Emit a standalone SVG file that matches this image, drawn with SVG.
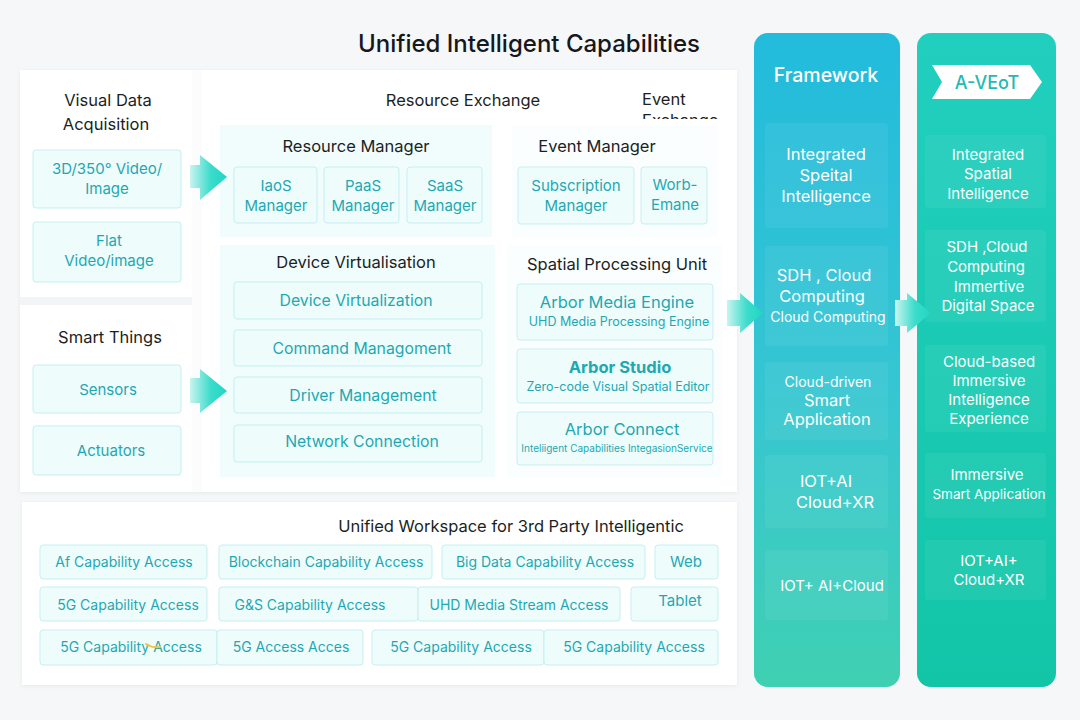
<svg xmlns="http://www.w3.org/2000/svg" width="1080" height="720" viewBox="0 0 1080 720">
<defs>
<linearGradient id="gFw" x1="0" y1="0" x2="0" y2="1"><stop offset="0" stop-color="#22bbdc"/><stop offset="0.55" stop-color="#36c6d2"/><stop offset="1" stop-color="#3fd0b2"/></linearGradient>
<linearGradient id="gAv" x1="0" y1="0" x2="0" y2="1"><stop offset="0" stop-color="#22cfbf"/><stop offset="1" stop-color="#12c5a7"/></linearGradient>
<linearGradient id="gArr" x1="0" y1="0" x2="1" y2="0"><stop offset="0" stop-color="#c9f4ef"/><stop offset="0.55" stop-color="#3ddccb"/><stop offset="1" stop-color="#1fd6c4"/></linearGradient>
<clipPath id="clipEv"><rect x="630" y="80" width="100" height="39"/></clipPath>
<filter id="sh" x="-5%" y="-5%" width="110%" height="110%"><feDropShadow dx="0" dy="1" stdDeviation="2" flood-color="#9aa8b0" flood-opacity="0.18"/></filter>
</defs>
<style>
text{font-family:"Inter","Liberation Sans",sans-serif;}
.title{font-size:24px;fill:#15181c;font-weight:500;text-anchor:middle;}
.h{font-size:16.5px;fill:#1c1f23;text-anchor:middle;}
.t{font-size:15px;fill:#1ea8b1;text-anchor:middle;}
.tw{font-size:14px;fill:#1ea8b1;text-anchor:middle;}
.ts{font-size:12.5px;fill:#1ea8b1;text-anchor:middle;}
.tb{font-size:16.5px;fill:#1ea8b1;text-anchor:middle;}
.box{fill:#effcfc;stroke:#c5eff0;stroke-width:1;}
.panelT{fill:#f1fcfc;}
.panelW{fill:#fbfefe;}
.w{font-size:16.5px;fill:#ffffff;text-anchor:middle;}
.ws{font-size:14px;fill:#ffffff;text-anchor:middle;}
.ib{fill:#ffffff;fill-opacity:0.06;}
.arr{fill:url(#gArr);}
</style>
<rect x="0" y="0" width="1080" height="720" fill="#f6f7f8"/>
<g id="main-panel">
<rect x="20" y="70" width="717" height="422" fill="#ffffff" filter="url(#sh)"/>
<rect x="20" y="297" width="172" height="8" fill="#f3f4f5"/>
<rect x="192" y="70" width="10" height="422" fill="#fcfcfc"/>
</g>
<text class="title" x="529" y="52">Unified Intelligent Capabilities</text>

<g id="visual-data">
<text class="h" x="108" y="106">Visual Data</text>
<text class="h" x="106" y="130">Acquisition</text>
<rect class="box" x="33" y="150" width="148" height="58" rx="3"/>
<text class="t" x="107" y="174">3D/350° Video/</text>
<text class="t" x="107" y="194">Image</text>
<rect class="box" x="33" y="222" width="148" height="60" rx="3"/>
<text class="t" x="109" y="246">Flat</text>
<text class="t" x="109" y="266">Video/image</text>
</g>

<g id="smart-things">
<text class="h" x="110" y="343">Smart Things</text>
<rect class="box" x="33" y="365" width="148" height="48" rx="3"/>
<text class="t" x="108" y="395">Sensors</text>
<rect class="box" x="33" y="426" width="148" height="49" rx="3"/>
<text class="t" x="111" y="456">Actuators</text>
</g>

<g id="resource-exchange">
<text class="h" x="463" y="106">Resource Exchange</text>
<rect class="panelT" x="220" y="125" width="272" height="112"/>
<text class="h" x="356" y="152">Resource Manager</text>
<rect class="box" x="234" y="167" width="83" height="56" rx="3"/>
<text class="t" x="276" y="191">IaoS</text>
<text class="t" x="276" y="211">Manager</text>
<rect class="box" x="324" y="167" width="75" height="56" rx="3"/>
<text class="t" x="363" y="191">PaaS</text>
<text class="t" x="363" y="211">Manager</text>
<rect class="box" x="407" y="167" width="75" height="56" rx="3"/>
<text class="t" x="445" y="191">SaaS</text>
<text class="t" x="445" y="211">Manager</text>
</g>

<g id="event-exchange">
<text class="h" x="642" y="105" style="text-anchor:start">Event</text>
<text class="h" x="642" y="126" style="text-anchor:start" clip-path="url(#clipEv)">Exchange</text>
<rect class="panelW" x="512" y="125" width="206" height="112"/>
<text class="h" x="597" y="152">Event Manager</text>
<rect class="box" x="518" y="167" width="116" height="57" rx="3"/>
<text class="t" x="576" y="191">Subscription</text>
<text class="t" x="576" y="211">Manager</text>
<rect class="box" x="641" y="167" width="66" height="57" rx="3"/>
<text class="t" x="675" y="190">Worb-</text>
<text class="t" x="675" y="210">Emane</text>
</g>

<g id="device-virtualisation">
<rect class="panelT" x="220" y="245" width="275" height="232"/>
<text class="h" x="356" y="268">Device Virtualisation</text>
<rect class="box" x="234" y="282" width="248" height="37" rx="3"/>
<text class="t" x="356" y="306" style="font-size:15.8px">Device Virtualization</text>
<rect class="box" x="234" y="330" width="248" height="36" rx="3"/>
<text class="t" x="362" y="354" style="font-size:15.8px">Command Managoment</text>
<rect class="box" x="234" y="377" width="248" height="36" rx="3"/>
<text class="t" x="363" y="401" style="font-size:15.8px">Driver Management</text>
<rect class="box" x="234" y="425" width="248" height="37" rx="3"/>
<text class="t" x="362" y="447" style="font-size:15.8px">Network Connection</text>
</g>

<g id="spatial-processing">
<rect class="panelW" x="507" y="245" width="215" height="232"/>
<text class="h" x="617" y="270">Spatial Processing Unit</text>
<rect class="box" x="517" y="284" width="196" height="56" rx="3"/>
<text class="tb" x="617" y="308">Arbor Media Engine</text>
<text class="ts" x="619" y="326">UHD Media Processing Engine</text>
<rect class="box" x="517" y="349" width="196" height="54" rx="3"/>
<text class="tb" x="620" y="373" style="font-weight:700">Arbor Studio</text>
<text class="ts" x="618" y="391">Zero-code Visual Spatial Editor</text>
<rect class="box" x="517" y="412" width="196" height="53" rx="3"/>
<text class="tb" x="622" y="435">Arbor Connect</text>
<text class="ts" x="617" y="452" style="font-size:10px">Inteliigent Capabilities IntegasionService</text>
</g>

<g id="workspace">
<rect x="22" y="502" width="715" height="183" fill="#ffffff" filter="url(#sh)"/>
<text class="h" x="511" y="532">Unified Workspace for 3rd Party Intelligentic</text>
<rect class="box" x="40" y="545" width="167" height="34" rx="3"/>
<text class="tw" x="124" y="567">Af Capability Access</text>
<rect class="box" x="219" y="545" width="213" height="34" rx="3"/>
<text class="tw" x="326" y="567">Blockchain Capability Access</text>
<rect class="box" x="442" y="545" width="203" height="34" rx="3"/>
<text class="tw" x="545" y="567">Big Data Capability Access</text>
<rect class="box" x="655" y="545" width="63" height="34" rx="3"/>
<text class="tw" x="686" y="567" style="font-size:15px">Web</text>
<rect class="box" x="40" y="587" width="167" height="34" rx="3"/>
<text class="tw" x="128" y="610">5G Capability Access</text>
<rect class="box" x="219" y="587" width="199" height="34" rx="3"/>
<text class="tw" x="310" y="610">G&amp;S Capability Access</text>
<rect class="box" x="418" y="587" width="202" height="34" rx="3"/>
<text class="tw" x="519" y="610">UHD Media Stream Access</text>
<rect class="box" x="631" y="587" width="87" height="34" rx="3"/>
<text class="tw" x="680" y="606" style="font-size:15px">Tablet</text>
<rect class="box" x="40" y="630" width="177" height="35" rx="3"/>
<text class="tw" x="131" y="652">5G Capability Access</text>
<path d="M146 644 Q152 648 160 647" fill="none" stroke="#f2c53a" stroke-width="2" stroke-linecap="round"/>
<rect class="box" x="217" y="630" width="146" height="35" rx="3"/>
<text class="tw" x="291" y="652">5G Access Acces</text>
<rect class="box" x="372" y="630" width="172" height="35" rx="3"/>
<text class="tw" x="461" y="652">5G Capability Access</text>
<rect class="box" x="544" y="630" width="174" height="35" rx="3"/>
<text class="tw" x="634" y="652">5G Capability Access</text>
</g>

<g id="framework">
<rect x="754" y="33" width="146" height="654" rx="14" fill="url(#gFw)"/>
<text class="w" x="826" y="82" style="font-size:19.5px;font-weight:500">Framework</text>
<rect class="ib" x="765" y="123" width="123" height="105" rx="3"/>
<text class="w" x="826" y="160">Integrated</text>
<text class="w" x="826" y="181">Speital</text>
<text class="w" x="826" y="202">Intelligence</text>
<rect class="ib" x="765" y="246" width="123" height="100" rx="3"/>
<text class="w" x="824" y="281">SDH , Cloud</text>
<text class="w" x="822" y="302">Computing</text>
<text class="ws" x="828" y="322">Cloud Computing</text>
<rect class="ib" x="765" y="362" width="123" height="78" rx="3"/>
<text class="ws" x="828" y="387">Cloud-driven</text>
<text class="w" x="827" y="406">Smart</text>
<text class="w" x="827" y="425">Application</text>
<rect class="ib" x="765" y="455" width="123" height="73" rx="3"/>
<text class="w" x="826" y="487">IOT+AI</text>
<text class="w" x="835" y="508">Cloud+XR</text>
<rect class="ib" x="765" y="550" width="123" height="70" rx="3"/>
<text class="w" x="832" y="591" style="font-size:15px">IOT+ AI+Cloud</text>
</g>

<g id="a-veot">
<rect x="917" y="33" width="139" height="654" rx="14" fill="url(#gAv)"/>
<polygon points="932,65 1030,65 1042,82 1030,99 932,99 942,82" fill="#ffffff"/>
<text x="987" y="89" style="font-size:18px;fill:#1fbab5;text-anchor:middle;font-weight:500">A-VEoT</text>
<rect class="ib" x="925" y="135" width="121" height="73" rx="3"/>
<text class="w" x="988" y="160" style="font-size:15px">Integrated</text>
<text class="w" x="988" y="179" style="font-size:15px">Spatial</text>
<text class="w" x="988" y="199" style="font-size:15px">Intelligence</text>
<rect class="ib" x="925" y="230" width="121" height="92" rx="3"/>
<text class="w" x="987" y="252" style="font-size:15px">SDH ,Cloud</text>
<text class="w" x="986" y="272" style="font-size:15px">Computing</text>
<text class="w" x="989" y="292" style="font-size:15px">Immertive</text>
<text class="w" x="988" y="311" style="font-size:15px">Digital Space</text>
<rect class="ib" x="925" y="345" width="121" height="87" rx="3"/>
<text class="w" x="989" y="367" style="font-size:15px">Cloud-based</text>
<text class="w" x="989" y="386" style="font-size:15px">Immersive</text>
<text class="w" x="989" y="405" style="font-size:15px">Intelligence</text>
<text class="w" x="989" y="424" style="font-size:15px">Experience</text>
<rect class="ib" x="925" y="453" width="121" height="65" rx="3"/>
<text class="w" x="987" y="480" style="font-size:15px">Immersive</text>
<text class="ws" x="989" y="499" style="font-size:13.5px">Smart Application</text>
<rect class="ib" x="925" y="540" width="121" height="60" rx="3"/>
<text class="w" x="989" y="566" style="font-size:15px">IOT+AI+</text>
<text class="w" x="989" y="585" style="font-size:15px">Cloud+XR</text>
</g>

<g id="connectors">
<path class="arr" d="M190 165 H200 V155 L227 177 L200 200 V188 H190 Z"/>
<path class="arr" d="M190 378 H200 V369 L227 391 L200 413 V403 H190 Z"/>
<path class="arr" d="M727 300 H740 V293 L763 313 L740 333 V326 H727 Z"/>
<path class="arr" d="M895 300 H907 V293 L931 313 L907 333 V326 H895 Z"/>
</g>
</svg>
